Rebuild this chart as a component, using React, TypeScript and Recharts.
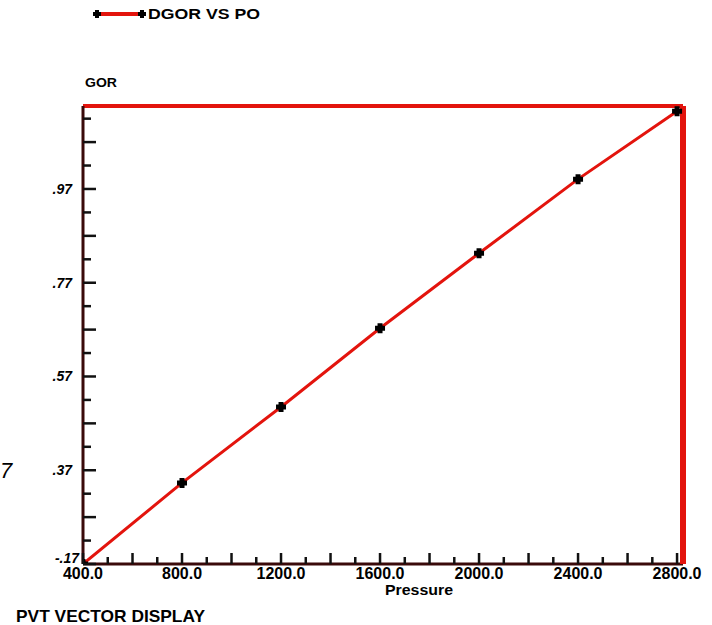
import { LineChart, Line, XAxis, YAxis } from 'recharts'

const pressure = [400, 800, 1200, 1600, 2000, 2400, 2800]
const dgor = [0.17, 0.343, 0.505, 0.673, 0.833, 0.991, 1.136]

const xTicks = [400, 500, 600, 700, 800, 900, 1000, 1100, 1200, 1300, 1400, 1500, 1600, 1700, 1800, 1900, 2000, 2100, 2200, 2300, 2400, 2500, 2600, 2700, 2800]
const xLabelAt = [400, 800, 1200, 1600, 2000, 2400, 2800]
const xLabels = ['400.0', '800.0', '1200.0', '1600.0', '2000.0', '2400.0', '2800.0']

const yTicks = [0.17, 0.22, 0.27, 0.32, 0.37, 0.42, 0.47, 0.52, 0.57, 0.62, 0.67, 0.72, 0.77, 0.82, 0.87, 0.92, 0.97, 1.02, 1.07, 1.12]
const yLabelAt = [0.17, 0.37, 0.57, 0.77, 0.97]
const yLabels = ['-.17', '.37', '.57', '.77', '.97']

const data = pressure.map((p, i) => ({ pressure: p, dgor: dgor[i] }))

const RED = '#e3140d'
const AXIS = '#3a0a0a'
const FONT = '"Liberation Sans", Arial, sans-serif'

function PlusMark({ cx, cy, size = 10 }: { cx: number; cy: number; size?: number }) {
  const h = size / 2
  const w = size / 4
  return (
    <path
      d={`M${cx - w},${cy - h}H${cx + w}V${cy - w}H${cx + h}V${cy + w}H${cx + w}V${cy + h}H${cx - w}V${cy + w}H${cx - h}V${cy - w}H${cx - w}Z`}
      fill="#000"
    />
  )
}

function XTick(props: any) {
  const { x, y, payload } = props
  const v = payload.value
  const long = (v - 400) % 200 === 0
  const li = xLabelAt.indexOf(v)
  return (
    <g>
      <line x1={x} x2={x} y1={y} y2={y - (long ? 11 : 7)} stroke="#111" strokeWidth={2.5} />
      {li >= 0 && (
        <text x={x} y={y + 15} textAnchor="middle" fontFamily={FONT} fontWeight="bold" fontSize={16} fill="#000">
          {xLabels[li]}
        </text>
      )}
    </g>
  )
}

function YTick(props: any) {
  const { x, y, payload } = props
  const v = payload.value
  const i = yTicks.indexOf(v)
  const li = yLabelAt.indexOf(v)
  const neg = li >= 0 && yLabels[li].startsWith('-')
  return (
    <g>
      <line x1={x} x2={x + (i % 2 === 0 ? 13 : 8)} y1={y} y2={y} stroke="#111" strokeWidth={2.5} />
      {li >= 0 && (
        <text
          x={neg ? x - 4 : x - 11}
          y={neg ? y - 1 : y + 5}
          textAnchor="end"
          fontFamily={FONT}
          fontWeight="bold"
          fontStyle="italic"
          fontSize={14}
          fill="#000"
        >
          {yLabels[li]}
        </text>
      )}
    </g>
  )
}

export default function App() {
  return (
    <div style={{ position: 'absolute', left: 0, top: 0, width: 712, height: 625, background: '#fff' }}>
      <LineChart width={712} height={625} data={data} margin={{ top: 105, right: 28, bottom: 60, left: 82 }}>
        <XAxis
          dataKey="pressure"
          type="number"
          domain={[400, 2824]}
          ticks={xTicks}
          interval={0}
          height={1}
          tickSize={0}
          tickMargin={0}
          tickLine={false}
          tick={<XTick />}
          axisLine={{ stroke: AXIS, strokeWidth: 3 }}
          allowDataOverflow
        />
        <XAxis
          xAxisId="top"
          orientation="top"
          type="number"
          domain={[400, 2824]}
          height={1}
          tick={false}
          tickLine={false}
          axisLine={{ stroke: RED, strokeWidth: 4 }}
        />
        <YAxis
          type="number"
          domain={[0.17, 1.147]}
          ticks={yTicks}
          interval={0}
          width={1}
          tickSize={0}
          tickMargin={0}
          tickLine={false}
          tick={<YTick />}
          axisLine={{ stroke: AXIS, strokeWidth: 3 }}
          allowDataOverflow
        />
        <YAxis
          yAxisId="right"
          orientation="right"
          type="number"
          domain={[0.17, 1.147]}
          width={1}
          tick={false}
          tickLine={false}
          axisLine={{ stroke: RED, strokeWidth: 6 }}
        />
        <Line
          dataKey="dgor"
          stroke={RED}
          strokeWidth={3}
          isAnimationActive={false}
          dot={(p: any) => <PlusMark key={p.index} cx={p.cx} cy={p.cy} size={10} />}
          activeDot={false}
        />
      </LineChart>
      <svg width={712} height={625} style={{ position: 'absolute', left: 0, top: 0, pointerEvents: 'none' }}>
        <line x1={96} x2={142} y1={14} y2={14} stroke={RED} strokeWidth={4} />
        <PlusMark cx={97} cy={14} size={8} />
        <PlusMark cx={142} cy={14} size={8} />
        <text x={148} y={19} fontFamily={FONT} fontWeight="bold" fontSize={14} textLength={112} lengthAdjust="spacingAndGlyphs" fill="#000">DGOR VS PO</text>
        <text x={85} y={87} fontFamily={FONT} fontWeight="bold" fontSize={13} textLength={32} lengthAdjust="spacingAndGlyphs" fill="#000">GOR</text>
        <text x={385} y={595} fontFamily={FONT} fontWeight="bold" fontSize={14} textLength={68} lengthAdjust="spacingAndGlyphs" fill="#000">Pressure</text>
        <text x={16} y={622} fontFamily={FONT} fontWeight="bold" fontSize={17} textLength={189} lengthAdjust="spacingAndGlyphs" fill="#000">PVT VECTOR DISPLAY</text>
        <text x={0} y={478} fontFamily={FONT} fontStyle="italic" fontSize={22} fill="#000">7</text>
      </svg>
    </div>
  )
}
